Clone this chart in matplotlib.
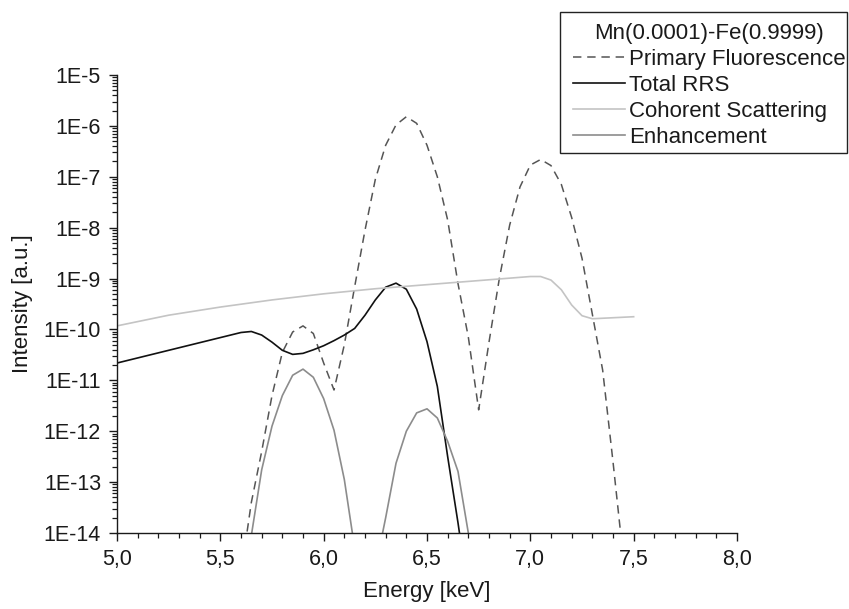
import numpy as np
import matplotlib
matplotlib.use("Agg")
import matplotlib.pyplot as plt
from matplotlib.ticker import MultipleLocator, FuncFormatter, LogLocator
from matplotlib.patches import Rectangle

plt.rcParams['font.family'] = ['Liberation Sans', 'DejaVu Sans']

# ---- data (log10 of intensity) ----
pf_x = [5.60, 5.65, 5.70, 5.75, 5.80, 5.85, 5.90, 5.95, 6.00, 6.05, 6.10, 6.15, 6.20,
        6.25, 6.30, 6.35, 6.40, 6.45, 6.50, 6.55, 6.60, 6.65, 6.70, 6.75, 6.80, 6.85,
        6.90, 6.95, 7.00, 7.05, 7.10, 7.15, 7.20, 7.25, 7.30, 7.35, 7.40, 7.45]
pf_log = [-14.8, -13.4, -12.4, -11.3, -10.45, -10.05, -9.93, -10.08, -10.66, -11.19, -10.3, -9.16, -8.05,
          -7.05, -6.38, -5.98, -5.82, -5.95, -6.38, -7.0, -7.85, -9.1, -10.15, -11.58, -10.25, -9.0,
          -7.95, -7.2, -6.77, -6.66, -6.78, -7.15, -7.8, -8.6, -9.7, -10.8, -12.6, -14.5]

rrs_x = [5.0, 5.2, 5.4, 5.6, 5.65, 5.70, 5.75, 5.80, 5.85, 5.90, 5.95, 6.00, 6.05, 6.10,
         6.15, 6.20, 6.25, 6.30, 6.35, 6.40, 6.45, 6.50, 6.55, 6.60, 6.65, 6.70]
rrs_log = [-10.66, -10.46, -10.26, -10.06, -10.04, -10.11, -10.25, -10.41, -10.49, -10.47, -10.40, -10.32, -10.22, -10.11,
           -9.98, -9.72, -9.42, -9.17, -9.09, -9.21, -9.60, -10.24, -11.12, -12.50, -13.8, -15.2]

coh_x = [5.0, 5.25, 5.5, 5.75, 6.0, 6.25, 6.5, 6.75, 7.0, 7.05, 7.10, 7.15, 7.20, 7.25, 7.30, 7.40, 7.50]
coh_log = [-9.93, -9.72, -9.56, -9.42, -9.30, -9.20, -9.12, -9.04, -8.96, -8.96, -9.03, -9.22, -9.52, -9.73, -9.79, -9.77, -9.75]

enh_x = [5.60, 5.65, 5.70, 5.75, 5.80, 5.85, 5.90, 5.95, 6.00, 6.05, 6.10, 6.15, 6.20,
         6.25, 6.30, 6.35, 6.40, 6.45, 6.50, 6.55, 6.60, 6.65, 6.70, 6.75]
enh_log = [-15.5, -14.05, -12.76, -11.9, -11.3, -10.9, -10.78, -10.94, -11.36, -11.98, -12.95, -14.3, -16.0,
           -14.7, -13.7, -12.63, -12.0, -11.64, -11.56, -11.74, -12.2, -12.79, -14.0, -15.5]

legend_title = "Mn(0.0001)-Fe(0.9999)"
labels = ["Primary Fluorescence", "Total RRS", "Cohorent Scattering", "Enhancement"]

# ---- figure ----
W, H = 849, 609
fig = plt.figure(figsize=(W / 100, H / 100), dpi=100)
ax = fig.add_axes([117 / W, 1 - 533 / H, (737 - 117) / W, (533 - 75) / H])

txt = '#1a1a1a'
l1, = ax.plot(pf_x, 10 ** np.array(pf_log), color='#555555', lw=1.1, linestyle=(0, (5.5, 3.8)))
l2, = ax.plot(rrs_x, 10 ** np.array(rrs_log), color='#111111', lw=1.2)
l3, = ax.plot(coh_x, 10 ** np.array(coh_log), color='#c4c4c4', lw=1.2)
l4, = ax.plot(enh_x, 10 ** np.array(enh_log), color='#8c8c8c', lw=1.2)

ax.set_yscale('log')
ax.set_xlim(5.0, 8.0)
ax.set_ylim(1e-14, 1e-5)

ax.xaxis.set_major_locator(MultipleLocator(0.5))
ax.xaxis.set_minor_locator(MultipleLocator(0.1))
ax.xaxis.set_major_formatter(FuncFormatter(lambda v, p: f"{v:.1f}".replace('.', ',')))
ax.yaxis.set_major_locator(LogLocator(base=10, numticks=20))
ax.yaxis.set_minor_locator(LogLocator(base=10, subs=np.arange(2, 10), numticks=20))
ax.yaxis.set_major_formatter(FuncFormatter(lambda v, p: f"1E{int(round(np.log10(v)))}"))

for s in ['top', 'right']:
    ax.spines[s].set_visible(False)
for s in ['left', 'bottom']:
    ax.spines[s].set_linewidth(1.0)
    ax.spines[s].set_color(txt)

ax.tick_params(axis='both', which='major', direction='out', length=5.5, width=1.0,
               color=txt, labelsize=15.5, labelcolor=txt, pad=6)
ax.tick_params(axis='both', which='minor', direction='out', length=3.5, width=0.9, color=txt)

ax.set_xlabel("Energy [keV]", fontsize=16, color=txt, labelpad=8)
ax.set_ylabel("Intensity [a.u.]", fontsize=16, color=txt, labelpad=8)

leg = fig.legend([l1, l2, l3, l4], labels, title=legend_title,
                 loc='upper left', bbox_to_anchor=(573 / W, 1 - 23 / H),
                 frameon=False, fontsize=16, title_fontsize=16,
                 handlelength=2.35, handletextpad=0.17, labelspacing=0.22,
                 borderpad=0, borderaxespad=0)
for t in leg.get_texts():
    t.set_color(txt)
leg.get_title().set_color(txt)

fig.patches.append(Rectangle((560 / W, 1 - 153 / H), (847 - 560) / W, (153 - 12) / H,
                             transform=fig.transFigure, fill=False, edgecolor='#222222',
                             lw=1.0, zorder=5))

fig.savefig("out.png", dpi=100)
